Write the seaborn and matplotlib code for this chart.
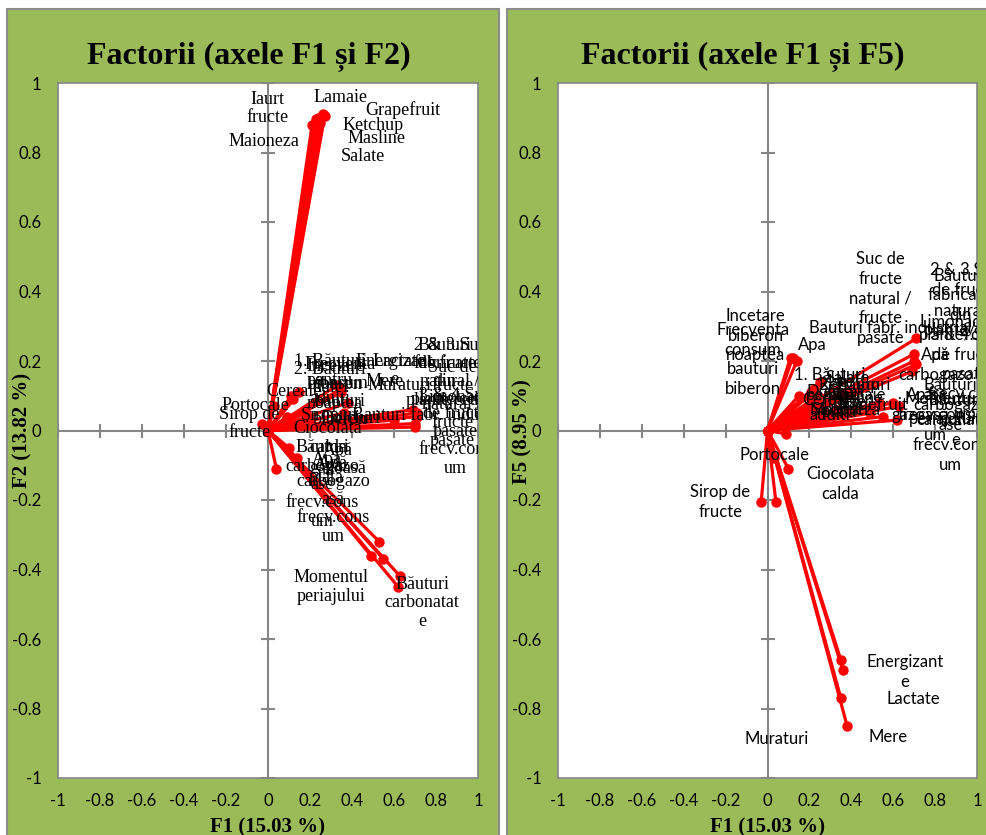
import matplotlib
matplotlib.use("Agg")
import matplotlib.pyplot as plt
from matplotlib.patches import Rectangle
import pandas as pd
import seaborn as sns

# variable names as labelled on the chart
names = [
    "Iaurt\nfructe", "Lamaie", "Grapefruit", "Ketchup", "Masline", "Salate", "Maioneza",
    "Momentul\nperiajului", "Băuturi\ncarbonatat\ne",
    "Apă\ncarbogazo\nasă\nfrecv.cons\num", "Băuturi\ncarbogazo\nase\nfrecv.cons\num",
    "Apă\ngazoasă",
    "Suc de\nfructe\nnatural /\nfructe\npasate", "2 & 3.Suc\nde fructe\nnatural /\nplante/ceai",
    "3 & 4.Suc\nde fructe\npasate\nfrecv.cons\num", "Limonada", "Băuturi\nfabricate\ndin\nplante/ceai",
    "Energizant\ne", "Lactate", "Mere", "Muraturi",
    "Sirop de\nfructe", "Portocale", "Ciocolata\ncalda", "Apă\nplată",
    "Incetare\nbiberon\nnoaptea", "Frecventa\nconsum\nbauturi\nbiberon", "Apa",
    "1. Băuturi\npentru\nadulti", "2. Băuturi\ndulci", "Dulciuri", "Siropuri", "Cereale",
    "Bauturi fabr. industrial",
]

# factor loadings
f1 = [0.22, 0.26, 0.27, 0.24, 0.23, 0.25, 0.21,
      0.55, 0.62, 0.53, 0.63, 0.49,
      0.71, 0.70, 0.71, 0.70, 0.69,
      0.35, 0.35, 0.38, 0.36,
      -0.03, 0.03, 0.10, 0.04,
      0.11, 0.12, 0.14, 0.15, 0.33, 0.20, 0.18, 0.09,
      0.60]
f2 = [0.875, 0.91, 0.905, 0.90, 0.895, 0.885, 0.88,
      -0.37, -0.45, -0.32, -0.42, -0.36,
      0.05, 0.02, 0.04, 0.01, 0.06,
      0.11, 0.12, 0.08, 0.05,
      0.02, 0.07, -0.05, -0.11,
      0.10, 0.09, -0.08, 0.11, 0.13, 0.03, 0.05, 0.04,
      0.03]
f5 = [0.12, 0.06, 0.05, 0.10, 0.08, 0.14, 0.11,
      0.04, 0.03, 0.08, 0.07, 0.05,
      0.265, 0.22, 0.19, 0.20, 0.17,
      -0.66, -0.77, -0.85, -0.69,
      -0.205, -0.08, -0.11, -0.205,
      0.21, 0.21, 0.20, 0.10, 0.06, 0.10, 0.05, -0.01,
      0.08]

# label offsets (pixels) from each point, per chart
off_f2 = [(-47, 18), (18, 17), (78, 6), (55, -8), (60, -19), (42, -34), (-48, -17),
          (-52, -28), (24, -16), (-46, 42), (-78, 92), (-33, 96),
          (35, 9), (35, 51), (38, -15), (40, 30), (32, 37),
          (53, 22), (58, 27), (37, 21), (56, 28),
          (-12, 0), (-19, 1), (39, 10), (50, 0),
          (44, 11), (47, 7), (31, -7), (30, 12), (-7, 7), (40, 2), (24, -2), (7, 25),
          (40, 5)]
off_f5 = [(31, -3), (38, 15), (46, 8), (32, 11), (39, 5), (28, 4), (34, -18),
          (60, 8), (58, 0), (57, 8), (51, -19), (50, 8),
          (-36, 40), (51, 54), (49, -10), (41, 39), (48, 66),
          (64, -12), (72, -1), (41, -11), (-66, -69),
          (-41, 0), (1, 3), (52, -15), (64, 100),
          (-35, 22), (-40, -2), (15, 16), (31, 1), (18, 15), (26, 4), (35, 3), (44, 34),
          (-3, 75)]

ticks = [-1, -0.8, -0.6, -0.4, -0.2, 0, 0.2, 0.4, 0.6, 0.8, 1]
tick_labels = ["-1", "-0.8", "-0.6", "-0.4", "-0.2", "0", "0.2", "0.4", "0.6", "0.8", "1"]

W, H = 987, 835
GREEN = "#9BBB59"
GRAY = "#868686"

sns.set_style("white")
plt.rcParams["font.family"] = ["Lato", "DejaVu Sans"]
plt.rcParams["text.color"] = "black"
plt.rcParams["xtick.color"] = "black"
plt.rcParams["ytick.color"] = "black"


def vectors(fy):
    rows = []
    for n, x, y in zip(names, f1, fy):
        rows.append((n, 0.0, 0.0))
        rows.append((n, x, y))
    return pd.DataFrame(rows, columns=["var", "x", "y"])


def panel(ax, fy, offsets, label_font, label_size, spacing):
    ax.set_facecolor("white")
    ax.set_xlim(-1, 1)
    ax.set_ylim(-1, 1)
    ax.axhline(0, color=GRAY, lw=1.5, zorder=1)
    ax.axvline(0, color=GRAY, lw=1.5, zorder=1)
    ax.plot(ticks, [0] * len(ticks), ls="none", marker="|", ms=9.5, mew=1.5, color=GRAY, zorder=1)
    ax.plot([0] * len(ticks), ticks, ls="none", marker="_", ms=9.5, mew=1.5, color=GRAY, zorder=1)
    sns.lineplot(data=vectors(fy), x="x", y="y", units="var", estimator=None, sort=False,
                 color="#FF0000", lw=2.3, marker="o", ms=7.5, mec="#FF0000", mew=0,
                 legend=False, ax=ax, zorder=3)
    for n, x, y, (dx, dy) in zip(names, f1, fy, offsets):
        ax.annotate(n, (x, y), xytext=(dx, dy), textcoords="offset pixels",
                    ha="center", va="center", fontsize=label_size, family=label_font,
                    linespacing=spacing, color="black", zorder=4, clip_on=True)
    ax.set_xticks(ticks)
    ax.set_yticks(ticks)
    ax.set_xticklabels(tick_labels)
    ax.set_yticklabels(tick_labels)
    ax.tick_params(length=0, labelsize=12, pad=12, colors="black")
    ax.tick_params(axis="x", pad=11)
    ax.set_xlabel("")
    ax.set_ylabel("")
    for s in ax.spines.values():
        s.set_color(GRAY)
        s.set_linewidth(1.2)


fig = plt.figure(figsize=(W / 100, H / 100), dpi=100)
fig.patch.set_facecolor("white")

# green chart backgrounds
for x0, x1 in [(7, 499), (507, 1010)]:
    fig.add_artist(Rectangle((x0 / W, -0.05), (x1 - x0) / W, (H - 9) / H + 0.05,
                             transform=fig.transFigure, facecolor=GREEN,
                             edgecolor="#8C8C8C", lw=1.5, zorder=-1))

bottom = (H - 778) / H
height = 695 / H
ax1 = fig.add_axes([58 / W, bottom, 420 / W, height])
ax2 = fig.add_axes([558 / W, bottom, 419 / W, height])

panel(ax1, f2, off_f2, ["Liberation Serif", "DejaVu Serif"], 13, 1.1)
panel(ax2, f5, off_f5, ["Lato", "DejaVu Sans"], 12, 1.3)

serif = ["Liberation Serif", "DejaVu Serif"]
fig.text(249 / W, 1 - 57 / H, "Factorii (axele F1 și F2)", ha="center", va="center",
         fontsize=23, fontweight="bold", family=serif, color="black")
fig.text(743 / W, 1 - 57 / H, "Factorii (axele F1 și F5)", ha="center", va="center",
         fontsize=23, fontweight="bold", family=serif, color="black")
fig.text(268 / W, 1 - 827 / H, "F1 (15.03 %)", ha="center", va="center",
         fontsize=15, fontweight="bold", family=serif, color="black")
fig.text(767 / W, 1 - 827 / H, "F1 (15.03 %)", ha="center", va="center",
         fontsize=15, fontweight="bold", family=serif, color="black")
fig.text(22 / W, 1 - 430 / H, "F2 (13.82 %)", ha="center", va="center", rotation=90,
         fontsize=15, fontweight="bold", family=serif, color="black")
fig.text(522 / W, 1 - 432 / H, "F5 (8.95 %)", ha="center", va="center", rotation=90,
         fontsize=15, fontweight="bold", family=serif, color="black")

fig.savefig("out.png", dpi=100)
